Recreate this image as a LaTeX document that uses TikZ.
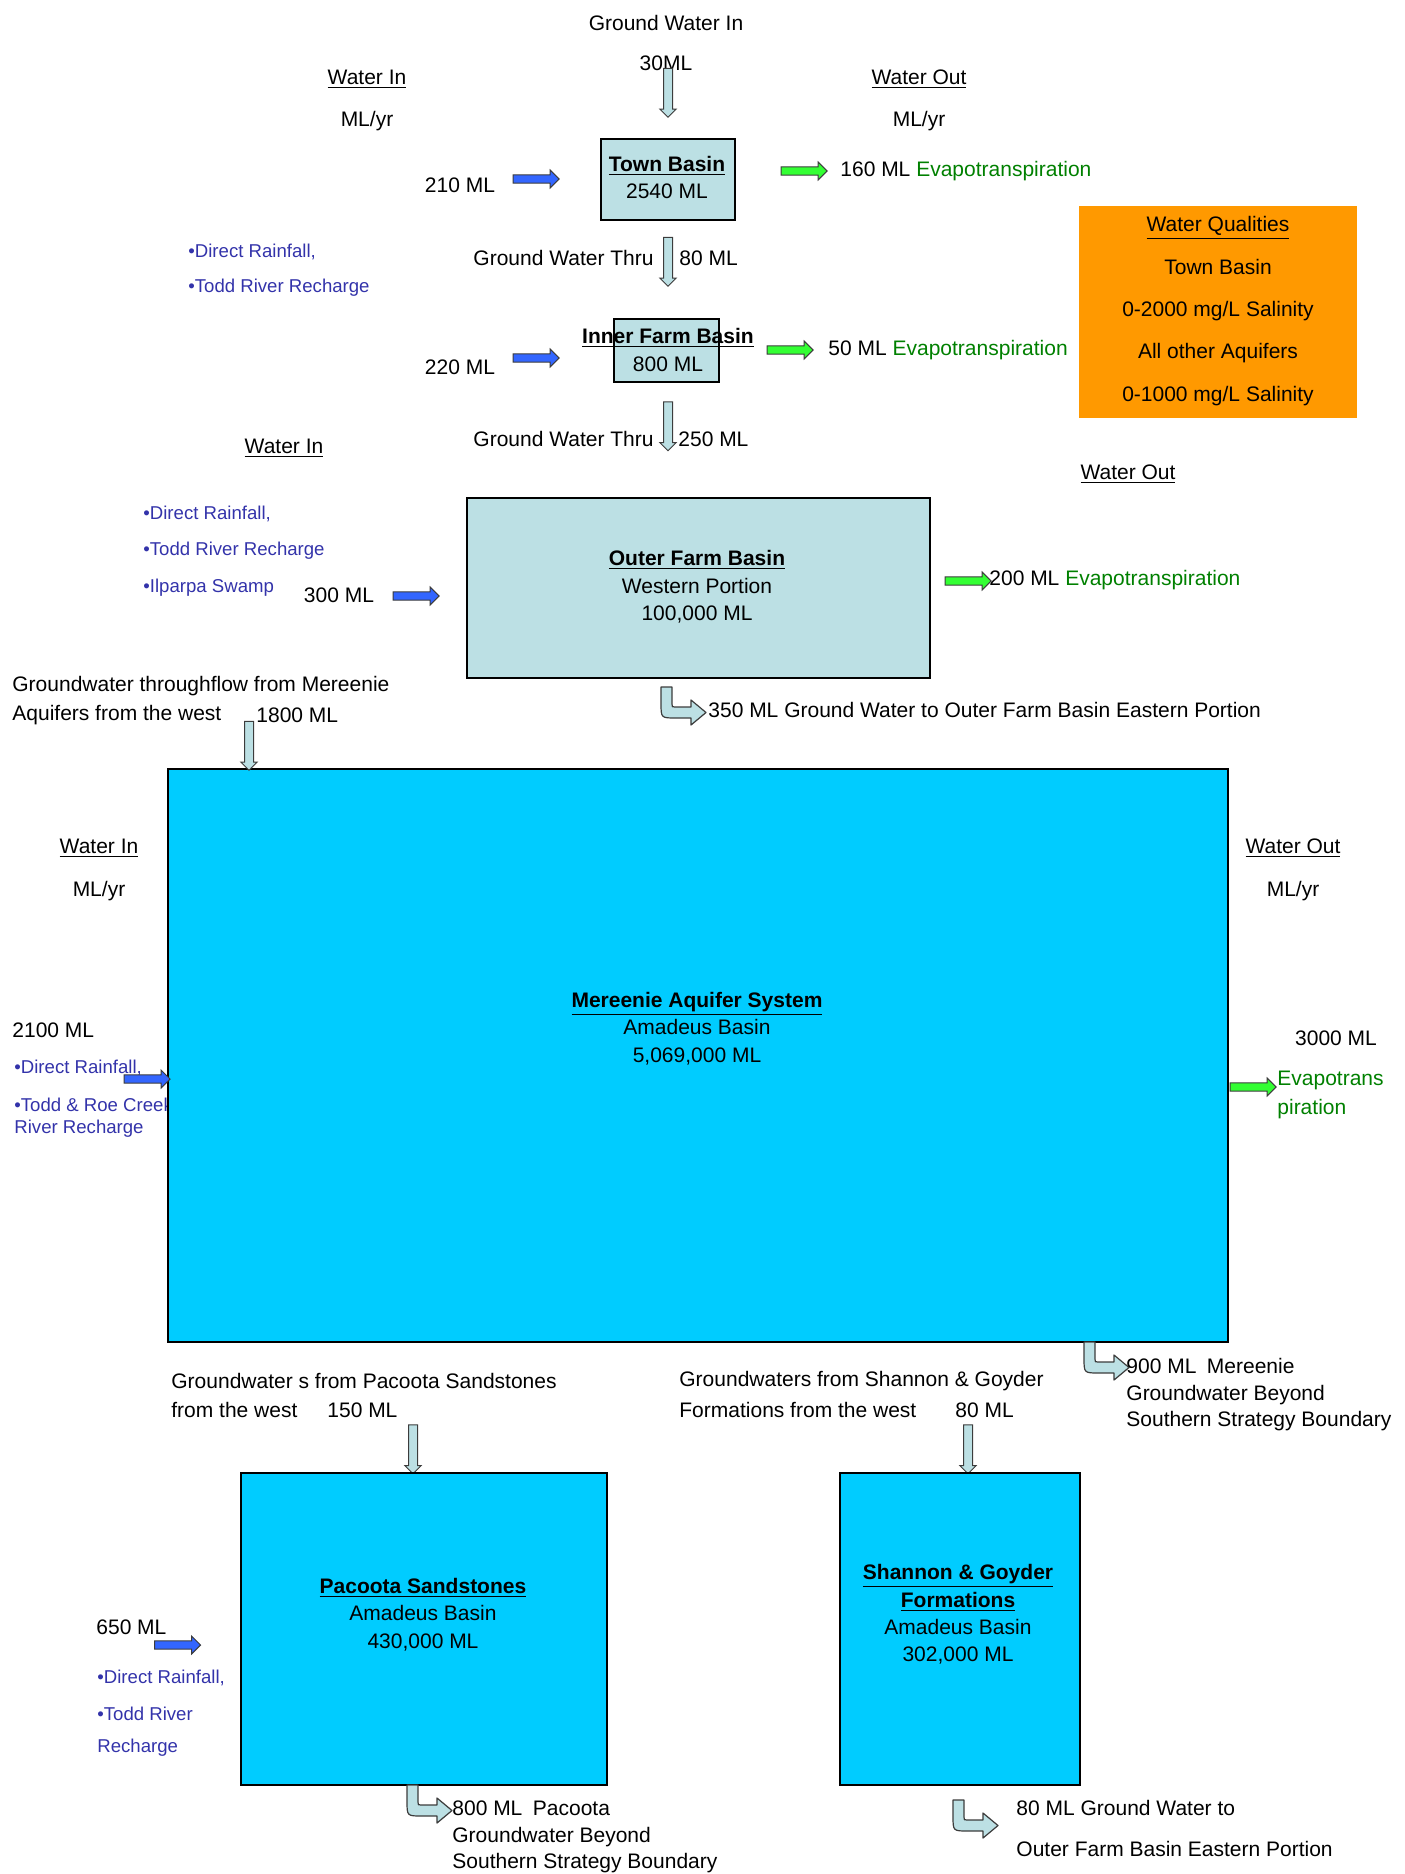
\documentclass[tikz,border=0pt]{standalone}
\usepackage{fontspec}
\setmainfont{Liberation Sans}
\usetikzlibrary{shapes.arrows}
\definecolor{paleblue}{RGB}{188,224,228}
\definecolor{aquacyan}{RGB}{0,204,255}
\definecolor{qualorange}{RGB}{255,153,0}
\definecolor{listblue}{RGB}{51,51,170}
\definecolor{evapgreen}{RGB}{0,128,0}
\definecolor{flowblue}{RGB}{51,102,255}
\definecolor{flowgreen}{RGB}{51,255,51}
\definecolor{edgegrey}{RGB}{60,60,60}
\tikzset{
  txt/.style={inner sep=0pt, font=\fontsize{10.5}{13.7}\selectfont},
  bluetxt/.style={inner sep=0pt, text=listblue, font=\fontsize{9.3}{12}\selectfont},
  pool/.style={draw, line width=0.9pt, fill=paleblue, inner sep=0pt},
  aquifer/.style={draw, line width=0.9pt, fill=aquacyan, inner sep=0pt},
  bluearrow/.style={single arrow, draw=edgegrey, fill=flowblue, line width=0.5pt,
    inner xsep=0pt, inner ysep=1.8pt, minimum height=23pt, single arrow head extend=2.4pt},
  greenarrow/.style={bluearrow, fill=flowgreen},
  downarrow/.style={bluearrow, fill=paleblue, inner ysep=2pt, single arrow head extend=1.8pt,
    minimum height=24.5pt, rotate=-90},
  bentflow/.pic={
    \draw[edgegrey, line width=0.6pt, fill=paleblue, line join=round]
      (0,0) -- (11,0) -- (11,17) .. controls (11,20) .. (14,20) -- (30,20) -- (30,13) -- (45,25.5)
      -- (30,38) -- (30,31) -- (15,31) .. controls (0,31) .. (0,16) -- cycle;
  }
}
\begin{document}
\begin{tikzpicture}[x=0.5pt,y=-0.5pt]
\useasboundingbox (0,0) rectangle (1404,1874);
% text that the boxes partly cover
\node[bluetxt, anchor=west] (srcC1) at (14,1068) {•Direct Rainfall,};
\node[bluetxt, anchor=west] (srcC2) at (14,1105) {•Todd \& Roe Creek};
\node[bluetxt, anchor=west] (srcC3) at (14,1129) {River Recharge};
\node[txt] (gwin) at (666,23) {Ground Water In};
\node[txt] (gwinval) at (666,63) {30ML};

% Town Basin
\node[txt] (winA) at (367,79) {\underline{Water In}};
\node[txt] (winAunit) at (367,121) {ML/yr};
\node[txt] (woutA) at (919,79) {\underline{Water Out}};
\node[txt] (woutAunit) at (919,121) {ML/yr};
\node[pool, minimum width=67pt, minimum height=40.5pt] (town) at (668,179.5) {};
\node[txt, align=center] (towntxt) at (667,177.5) {\textbf{\underline{Town Basin}}\\2540 ML};
\node[downarrow] (arrgwin) at (668,90.5) {};
\node[txt] (in210) at (460,185) {210 ML};
\node[bluearrow] (arrin210) at (534,179) {};
\node[greenarrow] (arrout160) at (802,171) {};
\node[txt, anchor=west] (out160) at (840,171) {160 ML \textcolor{evapgreen}{Evapotranspiration}};
\node[bluetxt, anchor=west] (srcA1) at (188,252) {•Direct Rainfall,};
\node[bluetxt, anchor=west] (srcA2) at (188,288) {•Todd River Recharge};
\node[txt, anchor=east] (thruA) at (654,258) {Ground Water Thru};
\node[txt, anchor=west] (thruAval) at (679,258) {80 ML};
\node[downarrow] (arrthruA) at (668,259.5) {};

% Inner Farm Basin
\node[pool, minimum width=52.5pt, minimum height=31.5pt] (inner) at (666.5,350.5) {};
\node[txt, align=center] (innertxt) at (668,350) {\textbf{\underline{Inner Farm Basin}}\\800 ML};
\node[txt] (in220) at (460,367) {220 ML};
\node[bluearrow] (arrin220) at (534,358) {};
\node[greenarrow] (arrout50) at (788,350) {};
\node[txt, anchor=west] (out50) at (828,350) {50 ML \textcolor{evapgreen}{Evapotranspiration}};
\node[downarrow] (arrthruB) at (668,424) {};
\node[txt, anchor=east] (thruB) at (654,439) {Ground Water Thru};
\node[txt, anchor=west] (thruBval) at (678,439) {250 ML};

% water qualities
\node[fill=qualorange, minimum width=139pt, minimum height=106pt, inner sep=0pt] (quality) at (1218,312) {};
\node[txt, align=center, font=\fontsize{10.5}{21.2}\selectfont] (qualtxt) at (1218,311)
  {\underline{Water Qualities}\\Town Basin\\0-2000 mg/L Salinity\\All other Aquifers\\0-1000 mg/L Salinity};

% Outer Farm Basin
\node[txt] (winB) at (284,448) {\underline{Water In}};
\node[txt] (woutB) at (1128,474) {\underline{Water Out}};
\node[bluetxt, anchor=west] (srcB1) at (143,514) {•Direct Rainfall,};
\node[bluetxt, anchor=west] (srcB2) at (143,551) {•Todd River Recharge};
\node[bluetxt, anchor=west] (srcB3) at (143,588) {•Ilparpa Swamp};
\node[txt] (in300) at (339,595) {300 ML};
\node[bluearrow] (arrin300) at (414,596) {};
\node[pool, minimum width=231.5pt, minimum height=90pt] (outer) at (698.5,588) {};
\node[txt, align=center] (outertxt) at (697,587) {\textbf{\underline{Outer Farm Basin}}\\Western Portion\\100,000 ML};
\node[greenarrow] (arrout200) at (966,581) {};
\node[txt, anchor=west] (out200) at (989,580) {200 ML \textcolor{evapgreen}{Evapotranspiration}};
\pic (bendA) at (661,687) {bentflow};
\node[txt, anchor=west] (out350) at (708,710) {350 ML Ground Water to Outer Farm Basin Eastern Portion};

% Mereenie Aquifer System
\node[txt, anchor=west] (thruC1) at (12,686) {Groundwater throughflow from Mereenie};
\node[txt, anchor=west] (thruC2) at (12,715) {Aquifers from the west};
\node[txt, anchor=west] (thruCval) at (256,715) {1800 ML};
\node[aquifer, minimum width=530pt, minimum height=286.5pt] (mereenie) at (698,1055.5) {};
\node[downarrow] (arrthruC) at (249,743.5) {};
\node[txt, align=center] (mereenietxt) at (697,1028.5) {\textbf{\underline{Mereenie Aquifer System}}\\Amadeus Basin\\5,069,000 ML};
\node[txt] (winC) at (99,848) {\underline{Water In}};
\node[txt] (winCunit) at (99,891) {ML/yr};
\node[txt, anchor=west] (in2100) at (12,1030) {2100 ML};
\node[bluearrow] (arrin2100) at (145,1079) {};
\node[txt] (woutC) at (1293,848) {\underline{Water Out}};
\node[txt] (woutCunit) at (1293,891) {ML/yr};
\node[txt] (out3000) at (1336,1038) {3000 ML};
\node[greenarrow] (arrout3000) at (1251,1087) {};
\node[txt, anchor=west, text=evapgreen] (evapC1) at (1277,1080) {Evapotrans};
\node[txt, anchor=west, text=evapgreen] (evapC2) at (1277,1109) {piration};
\pic (bendB) at (1084,1342) {bentflow};
\node[txt, anchor=west] (out900a) at (1126,1366) {900 ML\enspace Mereenie};
\node[txt, anchor=west] (out900b) at (1126,1395) {Groundwater Beyond};
\node[txt, anchor=west] (out900c) at (1126,1421) {Southern Strategy Boundary};

% lower aquifers
\node[txt, anchor=west] (srcD1) at (171,1381) {Groundwater s from Pacoota Sandstones};
\node[txt, anchor=west] (srcD2) at (171,1410) {from the west};
\node[txt, anchor=west] (srcDval) at (327,1410) {150 ML};
\node[downarrow] (arrin150) at (413,1447) {};
\node[txt, anchor=west] (srcE1) at (679,1381) {Groundwaters from Shannon \& Goyder};
\node[txt, anchor=west] (srcE2) at (679,1410) {Formations from the west};
\node[txt, anchor=west] (srcEval) at (955,1410) {80 ML};
\node[downarrow] (arrin80) at (968,1447) {};

\node[aquifer, minimum width=183pt, minimum height=156pt] (pacoota) at (424,1629) {};
\node[txt, align=center] (pacootatxt) at (423,1614.5) {\textbf{\underline{Pacoota Sandstones}}\\Amadeus Basin\\430,000 ML};
\node[txt, anchor=west] (in650) at (96,1627) {650 ML};
\node[bluearrow] (arrin650) at (175.5,1645) {};
\node[bluetxt, anchor=west] (srcF1) at (97,1678) {•Direct Rainfall,};
\node[bluetxt, anchor=west] (srcF2) at (97,1714) {•Todd River};
\node[bluetxt, anchor=west] (srcF3) at (97,1748) {Recharge};
\pic (bendC) at (407,1785) {bentflow};
\node[txt, anchor=west] (out800a) at (452,1808) {800 ML\enspace Pacoota};
\node[txt, anchor=west] (out800b) at (452,1837) {Groundwater Beyond};
\node[txt, anchor=west] (out800c) at (452,1863) {Southern Strategy Boundary};

\node[aquifer, minimum width=120pt, minimum height=156pt] (shannon) at (960,1629) {};
\node[txt, align=center] (shannontxt) at (958,1614.5) {\textbf{\underline{Shannon \& Goyder}}\\\textbf{\underline{Formations}}\\Amadeus Basin\\302,000 ML};
\pic (bendD) at (953,1800) {bentflow};
\node[txt, anchor=west] (out80a) at (1016,1808) {80 ML Ground Water to};
\node[txt, anchor=west] (out80b) at (1016,1849) {Outer Farm Basin Eastern Portion};
\end{tikzpicture}
\end{document}
